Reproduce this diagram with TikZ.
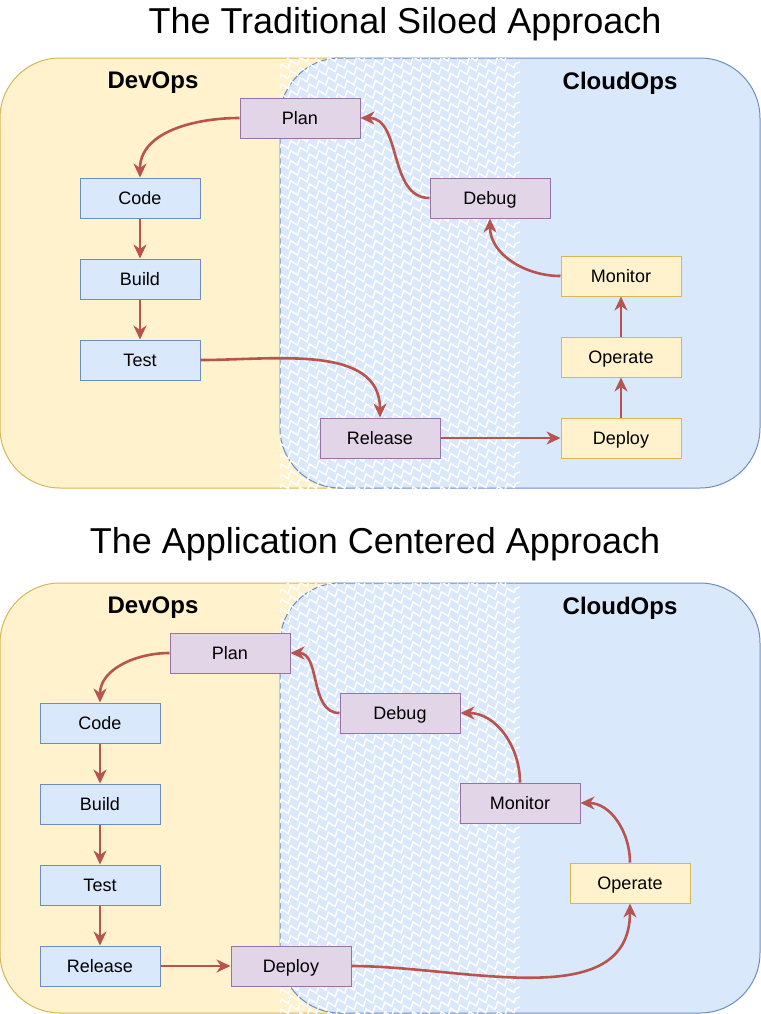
\documentclass[tikz,border=0pt]{standalone}
\usepackage{fontspec}
\setmainfont{Liberation Sans}
\usetikzlibrary{positioning, arrows.meta, decorations.pathmorphing}
\definecolor{blueFill}{HTML}{DAE8FC}
\definecolor{blueLine}{HTML}{6C8EBF}
\definecolor{yellowFill}{HTML}{FFF2CC}
\definecolor{yellowLine}{HTML}{D6B656}
\definecolor{purpleFill}{HTML}{E1D5E7}
\definecolor{purpleLine}{HTML}{9673A6}
\definecolor{flowRed}{HTML}{B85450}
\tikzset{box/.style = {line width=0.5pt, minimum width=60pt, minimum height=20pt, text height=8.4pt, text depth=2pt, font=\fontsize{9}{11}\selectfont}}
\tikzset{devbox/.style = {box, draw=blueLine, fill=blueFill}}
\tikzset{opsbox/.style = {box, draw=yellowLine, fill=yellowFill}}
\tikzset{sharedbox/.style = {box, draw=purpleLine, fill=purpleFill}}
\tikzset{zone/.style = {line width=0.5pt, rounded corners=30pt}}
\tikzset{zonelabel/.style = {font=\fontsize{12}{14}\selectfont\bfseries}}
\tikzset{headline/.style = {font=\fontsize{18}{22}\selectfont}}
\tikzset{hatch/.style = {draw=white, line width=0.7pt, decorate, decoration={zigzag, segment length=5pt, amplitude=1.6pt}}}
\tikzset{flow/.style = {->, color=flowRed, line width=1.3pt}}

\begin{document}
\begin{tikzpicture}[x=0.5pt, y=-0.5pt, >={Stealth[length=7pt, width=6.5pt, inset=2.2pt]}, node distance=20pt]
  \useasboundingbox (0,0) rectangle (761,1014);

  % the traditional siloed approach
  \node [headline] (title1) at (405,24) {The Traditional Siloed Approach};
  \draw [zone, draw=yellowLine, fill=yellowFill] (0,58) rectangle (400,488);
  \draw [zone, draw=blueLine, fill=blueFill] (280,58) rectangle (760,488);
  \begin{scope}
    \clip (280,58) rectangle (520,488);
    \foreach \k in {0,...,54} \draw [hatch] (280,58+10*\k) -- (520,-28+10*\k);
  \end{scope}
  \node [zonelabel] (dev1) at (153,83) {DevOps};
  \node [zonelabel] (cloud1) at (620,83) {CloudOps};

  \node [sharedbox] (plan1) at (300,118) {Plan};
  \node [devbox] (code1) at (140,198) {Code};
  \node [devbox, below=of code1] (build1) {Build};
  \node [devbox, below=of build1] (test1) {Test};
  \node [sharedbox] (release1) at (380,438) {Release};
  \node [opsbox, right=60pt of release1] (deploy1) {Deploy};
  \node [opsbox, above=of deploy1] (operate1) {Operate};
  \node [opsbox, above=of operate1] (monitor1) {Monitor};
  \node [sharedbox] (debug1) at (490,198) {Debug};

  \path[flow] (plan1.west) edge [out=180, in=90] (code1.north);
  \path[flow] (code1) edge (build1);
  \path[flow] (build1) edge (test1);
  \path[flow] (test1.east) edge [out=0, in=90] (release1.north);
  \path[flow] (release1) edge (deploy1);
  \path[flow] (deploy1) edge (operate1);
  \path[flow] (operate1) edge (monitor1);
  \path[flow] (monitor1.west) edge [out=180, in=-90] (debug1.south);
  \path[flow] (debug1.west) edge [out=180, in=0] (plan1.east);

  % the application centered approach
  \node [headline] (title2) at (375,544) {The Application Centered Approach};
  \draw [zone, draw=yellowLine, fill=yellowFill] (0,583) rectangle (400,1013);
  \draw [zone, draw=blueLine, fill=blueFill] (280,583) rectangle (760,1013);
  \begin{scope}
    \clip (280,583) rectangle (520,1013);
    \foreach \k in {0,...,54} \draw [hatch] (280,583+10*\k) -- (520,497+10*\k);
  \end{scope}
  \node [zonelabel] (dev2) at (153,608) {DevOps};
  \node [zonelabel] (cloud2) at (620,608) {CloudOps};

  \node [sharedbox] (plan2) at (230,653) {Plan};
  \node [devbox] (code2) at (100,723) {Code};
  \node [devbox, below=of code2] (build2) {Build};
  \node [devbox, below=of build2] (test2) {Test};
  \node [devbox, below=of test2] (release2) {Release};
  \node [sharedbox, right=35pt of release2] (deploy2) {Deploy};
  \node [opsbox] (operate2) at (630,883) {Operate};
  \node [sharedbox] (monitor2) at (520,803) {Monitor};
  \node [sharedbox] (debug2) at (400,713) {Debug};

  \path[flow] (plan2.west) edge [out=180, in=90] (code2.north);
  \path[flow] (code2) edge (build2);
  \path[flow] (build2) edge (test2);
  \path[flow] (test2) edge (release2);
  \path[flow] (release2) edge (deploy2);
  \path[flow] (deploy2.east) edge [out=0, in=-90] (operate2.south);
  \path[flow] (operate2.north) edge [out=90, in=0] (monitor2.east);
  \path[flow] (monitor2.north) edge [out=90, in=0] (debug2.east);
  \path[flow] (debug2.west) edge [out=180, in=0] (plan2.east);
\end{tikzpicture}
\end{document}
